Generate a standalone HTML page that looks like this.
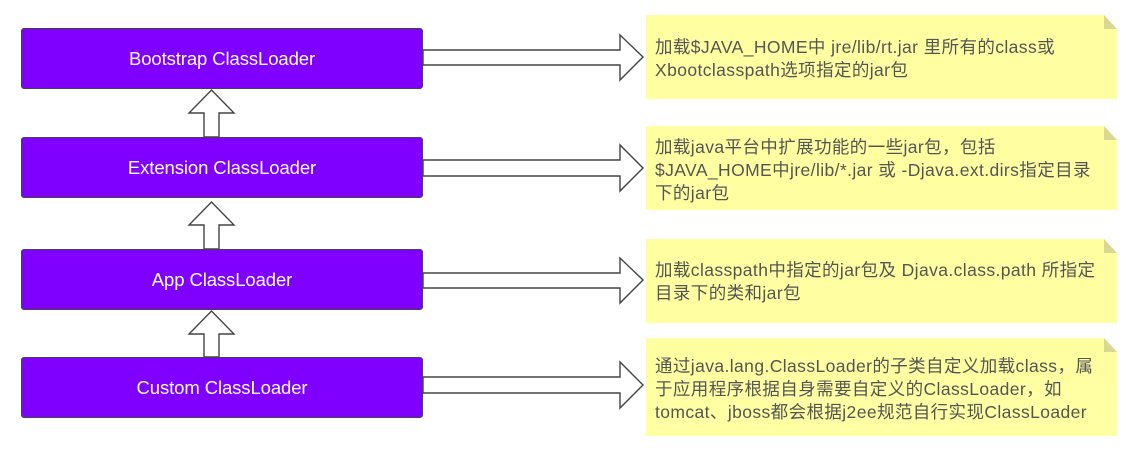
<!DOCTYPE html>
<html><head><meta charset="utf-8"><style>
body{margin:0;width:1146px;height:458px;background:#fff;position:relative;overflow:hidden;font-family:"Liberation Sans","Noto Sans CJK SC",sans-serif}
.box{position:absolute;left:21px;width:402px;height:61px;background:#7f00ff;border:1.5px solid #444;border-radius:3px;box-sizing:border-box;color:#fff;font-size:18.5px;display:flex;align-items:center;justify-content:center;letter-spacing:-0.1px}
.note{position:absolute;left:655px;color:#555;font-size:17.5px;line-height:23px;white-space:nowrap;letter-spacing:0.4px}
</style></head><body>
<svg width="1146" height="458" style="position:absolute;left:0;top:0">
<g fill="#ffff99" opacity="0.9">
<path d="M646 15 H1104 L1117 29 V99 H646Z"/>
<path d="M646 126 H1104 L1117 140 V210 H646Z"/>
<path d="M646 239 H1104 L1117 253 V323 H646Z"/>
<path d="M646 338 H1104 L1117 352 V436 H646Z"/>
</g>
<g fill="#d8d890">
<path d="M1104 15 L1117 29 H1104Z"/><path d="M1104 126 L1117 140 H1104Z"/><path d="M1104 239 L1117 253 H1104Z"/><path d="M1104 338 L1117 352 H1104Z"/>
</g>
<g fill="#fff" stroke="#444" stroke-width="1.4">
<path d="M423 50 H620 V35 L643 57 L620 80 V65 H423Z"/>
<path d="M423 160 H620 V145 L643 168 L620 191 V176 H423Z"/>
<path d="M423 273 H620 V258 L643 280 L620 303 V288 H423Z"/>
<path d="M423 377 H620 V362 L643 385 L620 408 V393 H423Z"/>
<path d="M204 137 V113 H189 L211.5 90 L234 113 H219 V137Z"/>
<path d="M204 249 V225 H189 L211.5 202 L234 225 H219 V249Z"/>
<path d="M204 357 V334 H189 L211.5 311 L234 334 H219 V357Z"/>
</g>
</svg>
<div class="box" style="top:28px">Bootstrap ClassLoader</div>
<div class="box" style="top:137px">Extension ClassLoader</div>
<div class="box" style="top:249px">App ClassLoader</div>
<div class="box" style="top:357px">Custom ClassLoader</div>
<div class="note" style="top:36px">加载$JAVA_HOME中 jre/lib/rt.jar 里所有的class或<br>Xbootclasspath选项指定的jar包</div>
<div class="note" style="top:136px">加载java平台中扩展功能的一些jar包，包括<br>$JAVA_HOME中jre/lib/*.jar 或 -Djava.ext.dirs指定目录<br>下的jar包</div>
<div class="note" style="top:259px">加载classpath中指定的jar包及 Djava.class.path 所指定<br>目录下的类和jar包</div>
<div class="note" style="top:355px">通过java.lang.ClassLoader的子类自定义加载class，属<br>于应用程序根据自身需要自定义的ClassLoader，如<br>tomcat、jboss都会根据j2ee规范自行实现ClassLoader</div>
</body></html>
